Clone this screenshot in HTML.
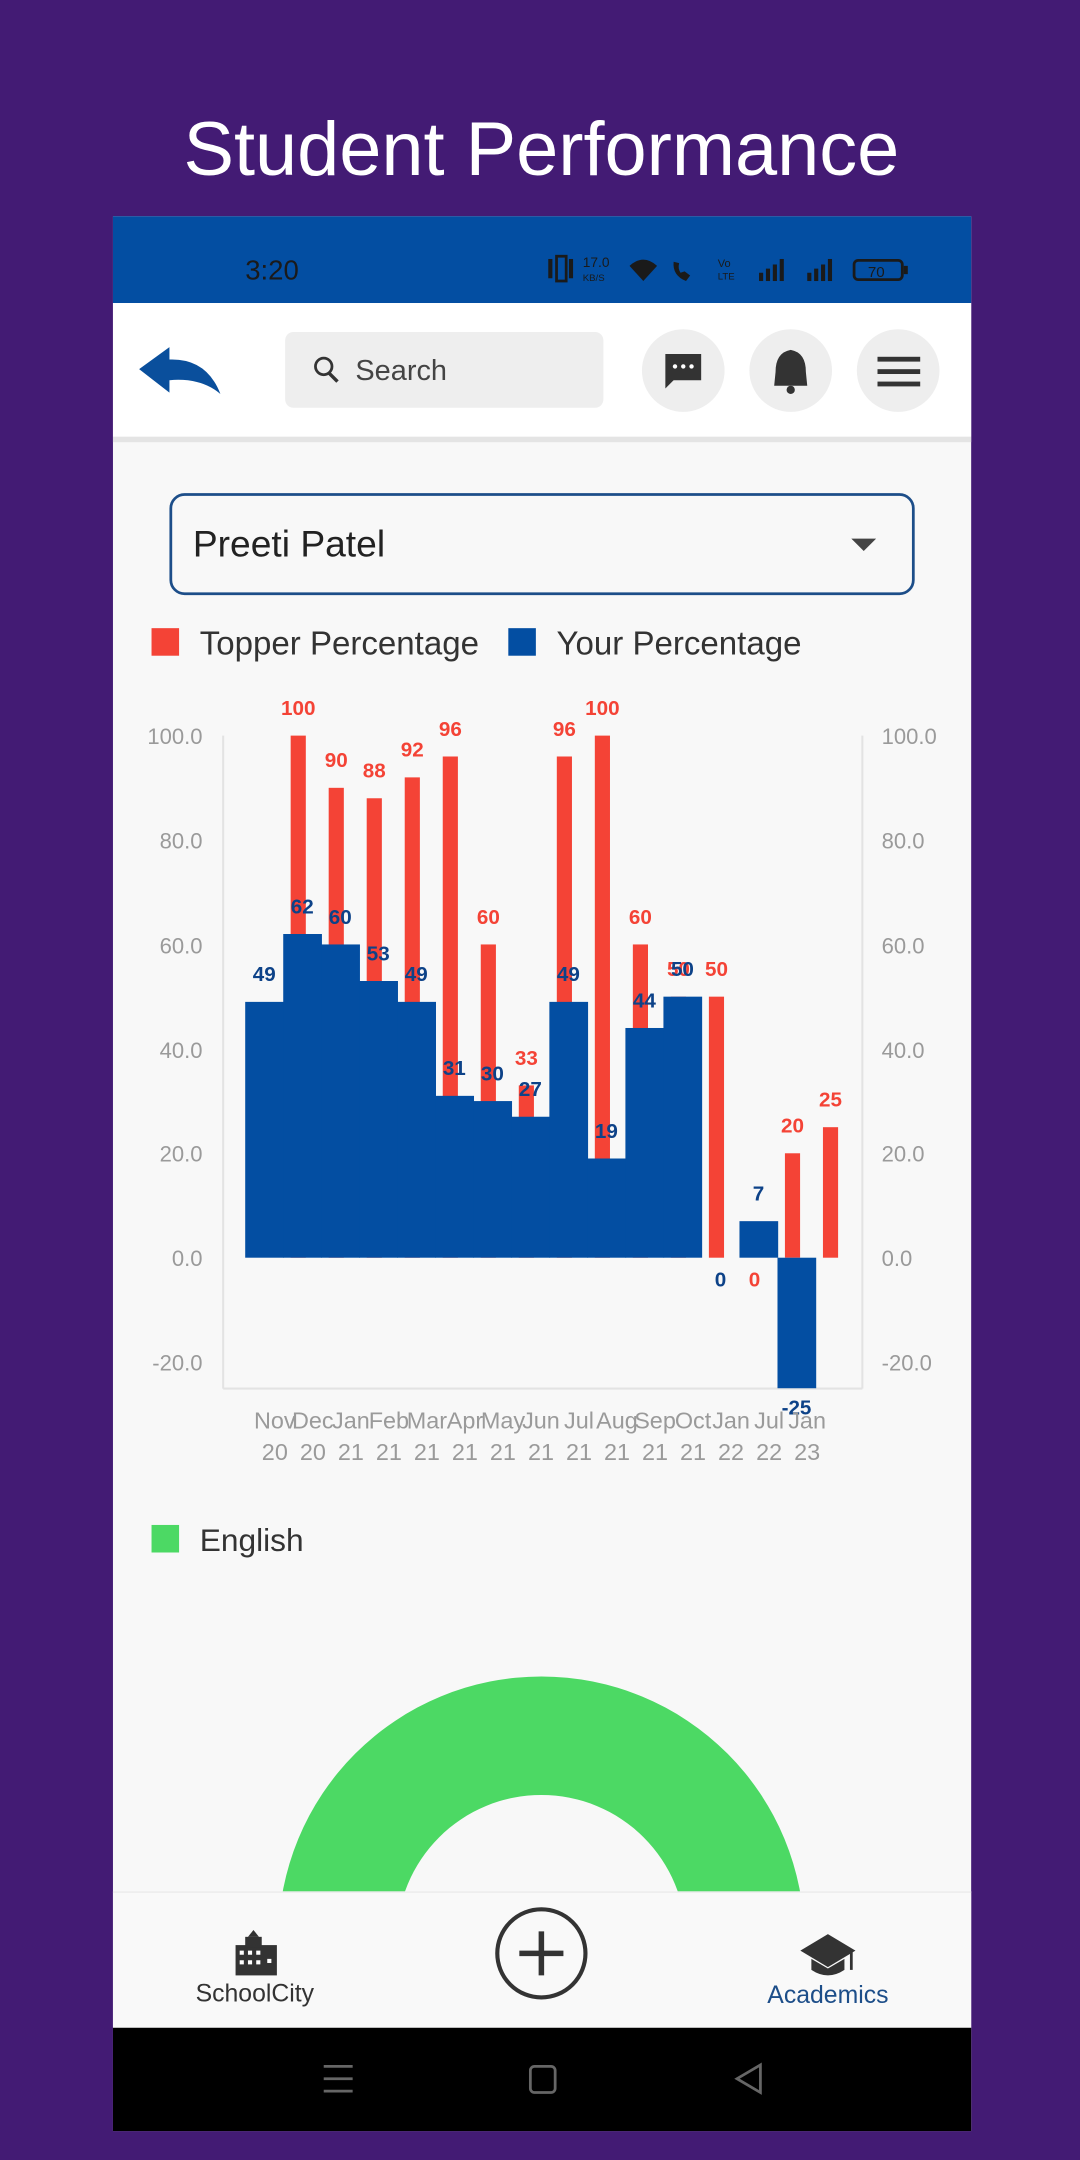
<!DOCTYPE html>
<html><head><meta charset="utf-8"><style>
html,body{margin:0;padding:0;background:#431b74;}
svg{display:block;}
text{font-family:"Liberation Sans",sans-serif;}
</style></head><body>
<svg width="1080" height="2160" viewBox="0 0 784 1568" xmlns="http://www.w3.org/2000/svg">
<rect width="784" height="1568" fill="#431b74"/>
<text x="393" y="127" font-size="55" fill="#fff" text-anchor="middle">Student Performance</text>
<!-- phone -->
<rect x="82" y="157" width="623" height="1390" fill="#f8f8f8"/>
<rect x="82" y="157" width="623" height="63" fill="#034ea2"/>
<text x="178" y="203" font-size="20" fill="#1a1a1a">3:20</text>
<g fill="#1a1a1a" font-size="10">
<rect x="398" y="188" width="3" height="14"/><rect x="404" y="186" width="7" height="18" fill="none" stroke="#1a1a1a" stroke-width="2"/><rect x="413" y="188" width="3" height="14"/>
<text x="423" y="194" font-size="10">17.0</text><text x="423" y="204" font-size="7">KB/S</text>
<path d="M457 193 Q467 184 477 193 L467 204 Z"/>
<path d="M489 190 Q488 200 498 204 L501 200 L497 197 L494 198 Q492 195 493 191 Z"/>
<text x="521" y="194" font-size="8">Vo</text><text x="521" y="203" font-size="7">LTE</text>
<rect x="551" y="198" width="3" height="6"/><rect x="556" y="195" width="3" height="9"/><rect x="561" y="192" width="3" height="12"/><rect x="566" y="188" width="3" height="16"/>
<rect x="586" y="198" width="3" height="6"/><rect x="591" y="195" width="3" height="9"/><rect x="596" y="192" width="3" height="12"/><rect x="601" y="188" width="3" height="16"/>
<rect x="620" y="189" width="35" height="14" rx="3" fill="none" stroke="#1a1a1a" stroke-width="2"/><rect x="656" y="193" width="3" height="6"/>
<text x="630" y="201" font-size="11">70</text>
</g>
<!-- header -->
<rect x="82" y="220" width="623" height="97" fill="#fff"/>
<rect x="82" y="317" width="623" height="4" fill="#e4e4e4"/>
<path d="M101 268 L123 252 L123 261 Q150 260 160 286 Q146 274 123 276 L123 285 Z" fill="#0a4f9c"/>
<rect x="207" y="241" width="231" height="55" rx="6" fill="#eeeeee"/>
<circle cx="235" cy="266" r="6" fill="none" stroke="#333" stroke-width="2"/><line x1="239" y1="271" x2="245" y2="277" stroke="#333" stroke-width="2.5"/>
<text x="258" y="276" font-size="21" fill="#444">Search</text>
<circle cx="496" cy="269" r="30" fill="#eeeeee"/>
<path d="M483 257 h26 v19 h-20 l-6 6 z" fill="#333"/><circle cx="490" cy="266" r="1.6" fill="#fff"/><circle cx="496" cy="266" r="1.6" fill="#fff"/><circle cx="502" cy="266" r="1.6" fill="#fff"/>
<circle cx="574" cy="269" r="30" fill="#eeeeee"/>
<path d="M574 254 Q585 256 585 270 L586 280 L562 280 L563 270 Q563 256 574 254 Z" fill="#333"/><circle cx="574" cy="283" r="3" fill="#333"/>
<circle cx="652" cy="269" r="30" fill="#eeeeee"/>
<rect x="637" y="259" width="31" height="3.5" fill="#333"/><rect x="637" y="268" width="31" height="3.5" fill="#333"/><rect x="637" y="277" width="31" height="3.5" fill="#333"/>
<!-- dropdown -->
<rect x="124" y="359" width="539" height="72" rx="10" fill="#f8f8f8" stroke="#1d4e89" stroke-width="2"/>
<text x="140" y="404" font-size="27" fill="#222">Preeti Patel</text>
<path d="M618 391 L636 391 L627 400 Z" fill="#444"/>
<!-- legend -->
<rect x="110" y="456" width="20" height="20" fill="#f44336"/>
<text x="145" y="475" font-size="24" fill="#333">Topper Percentage</text>
<rect x="369" y="456" width="20" height="20" fill="#034ea2"/>
<text x="404" y="475" font-size="24" fill="#333">Your Percentage</text>
<!-- chart axes -->
<g stroke="#e3e3e3" stroke-width="1.5"><line x1="162" y1="534" x2="162" y2="1008"/><line x1="626" y1="534" x2="626" y2="1008"/><line x1="162" y1="1008" x2="626" y2="1008"/></g>
<g font-size="16" fill="#9a9a9a">
<g text-anchor="end">
<text x="147" y="540">100.0</text><text x="147" y="616">80.0</text><text x="147" y="692">60.0</text><text x="147" y="768">40.0</text><text x="147" y="843">20.0</text><text x="147" y="919">0.0</text><text x="147" y="995">-20.0</text>
</g>
<text x="640" y="540">100.0</text><text x="640" y="616">80.0</text><text x="640" y="692">60.0</text><text x="640" y="768">40.0</text><text x="640" y="843">20.0</text><text x="640" y="919">0.0</text><text x="640" y="995">-20.0</text>
</g>
<g id="bars"></g>
<g id="xl" font-size="17" fill="#9a9a9a" text-anchor="middle"></g>
<!-- English legend -->
<rect x="110" y="1107" width="20" height="20" fill="#4cd964"/>
<text x="145" y="1126" font-size="23" fill="#333">English</text>
<!-- donut -->
<path d="M202 1408 A191 191 0 0 1 584 1408 L498 1408 A105 105 0 0 0 288 1408 Z" fill="#4cd964"/>
<!-- bottom nav -->
<rect x="82" y="1373" width="623" height="99" fill="#f9f9f9"/>
<line x1="82" y1="1373.5" x2="705" y2="1373.5" stroke="#eaeaea"/>
<g fill="#333">
<rect x="171" y="1412" width="30" height="22"/><rect x="178" y="1406" width="12" height="8"/><path d="M180 1406 L184 1401 L188 1406 Z"/>
</g>
<g fill="#fff"><rect x="174" y="1416" width="3" height="3"/><rect x="180" y="1416" width="3" height="3"/><rect x="186" y="1416" width="3" height="3"/><rect x="194" y="1422" width="3" height="3"/><rect x="174" y="1423" width="3" height="3"/><rect x="180" y="1423" width="3" height="3"/><rect x="186" y="1423" width="3" height="3"/></g>
<text x="185" y="1453" font-size="18" fill="#333" text-anchor="middle">SchoolCity</text>
<circle cx="393" cy="1418" r="32" fill="none" stroke="#333" stroke-width="3"/>
<line x1="377" y1="1418" x2="409" y2="1418" stroke="#333" stroke-width="4"/><line x1="393" y1="1402" x2="393" y2="1434" stroke="#333" stroke-width="4"/>
<path d="M581 1416 L601 1404 L621 1416 L601 1428 Z" fill="#333"/><path d="M589 1422 L589 1430 Q601 1438 613 1430 L613 1422 L601 1429 Z" fill="#333"/><line x1="618" y1="1416" x2="618" y2="1430" stroke="#333" stroke-width="2"/>
<text x="601" y="1454" font-size="18" fill="#1d4e89" text-anchor="middle">Academics</text>
<rect x="82" y="1472" width="623" height="75" fill="#000"/>
<g stroke="#666" stroke-width="2" fill="none">
<line x1="235" y1="1500" x2="256" y2="1500"/><line x1="235" y1="1509" x2="256" y2="1509"/><line x1="235" y1="1518" x2="256" y2="1518"/>
<rect x="385" y="1500" width="18" height="19" rx="3"/>
<path d="M552 1499 L535 1509 L552 1519 Z"/>
</g>
</svg>
<script>
(function(){
var NS="http://www.w3.org/2000/svg";
var g=document.getElementById("bars"),xl=document.getElementById("xl");
var z=913,u=3.79,w=27.6;
var blue=[49,62,60,53,49,31,30,27,49,19,44,50,0,7,-25];
var red=[100,90,88,92,96,60,33,96,100,60,50,50,0,20,25];
function r(x,y,wd,h,f){var e=document.createElementNS(NS,"rect");e.setAttribute("x",x);e.setAttribute("y",y);e.setAttribute("width",wd);e.setAttribute("height",h);e.setAttribute("fill",f);g.appendChild(e);}
function t(p,x,y,s,f,fs,b){var e=document.createElementNS(NS,"text");e.setAttribute("x",x);e.setAttribute("y",y);e.setAttribute("text-anchor","middle");e.setAttribute("font-size",fs);e.setAttribute("fill",f);if(b)e.setAttribute("font-weight","bold");e.textContent=s;p.appendChild(e);}
var i;
for(i=0;i<15;i++){var cx=216.5+w*i,v=red[i];if(v>0)r(cx-5.5,z-v*u,11,v*u,"#f44336");}
for(i=0;i<15;i++){var x0=178+w*i,v=blue[i];if(v>0)r(x0,z-v*u,w+0.5,v*u,"#034ea2");else if(v<0)r(x0,z,w+0.5,-v*u,"#034ea2");}
for(i=0;i<15;i++){var cx=216.5+w*i,v=red[i];t(g,cx,v>0?z-v*u-15:z+21,String(v),"#f44336",15,true);}
for(i=0;i<15;i++){var cx=191.8+w*i,v=blue[i];t(g,cx,v>0?z-v*u-15:(v<0?z-v*u+19:z+21),String(v),"#0d4288",15,true);}
var m=["Nov","Dec","Jan","Feb","Mar","Apr","May","Jun","Jul","Aug","Sep","Oct","Jan","Jul","Jan"];
var yy=["20","20","21","21","21","21","21","21","21","21","21","21","22","22","23"];
for(i=0;i<15;i++){var cx=199.5+w*i;t(xl,cx,1037,m[i],"#9a9a9a",17,false);t(xl,cx,1060,yy[i],"#9a9a9a",17,false);}
})();
</script>
</body></html>
